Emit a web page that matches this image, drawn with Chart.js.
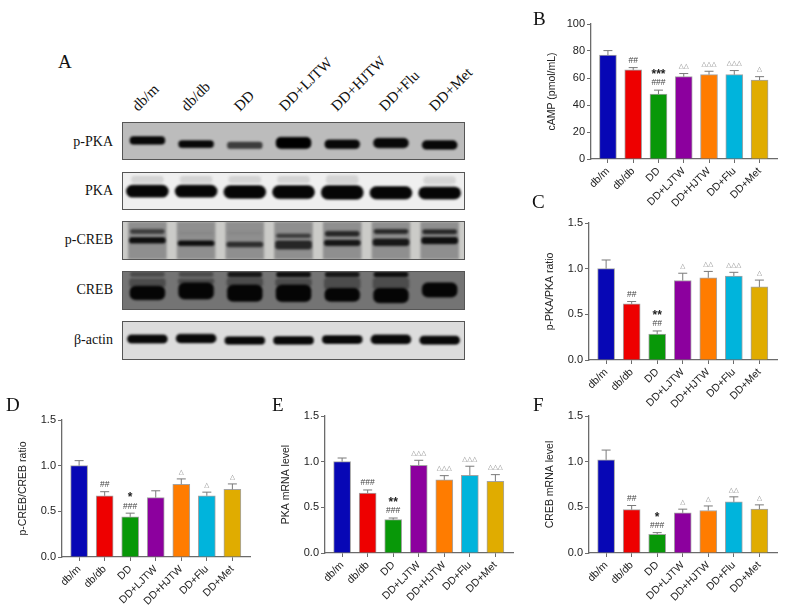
<!DOCTYPE html>
<html>
<head>
<meta charset="utf-8">
<title>Western blot and bar charts</title>
<script src="https://cdn.jsdelivr.net/npm/chart.js@4"></script>
<style>
  html, body { margin: 0; padding: 0; background: #fff; }
  #page { position: relative; width: 787px; height: 607px; overflow: hidden; }
  #page canvas { position: absolute; }
  .plot { filter: blur(0.35px); }
  .blot { box-sizing: border-box; border: 1.3px solid #555; }
  .letter, .rowlabel, .lane { position: absolute; font-family: "Liberation Serif", serif; color: #111; white-space: nowrap; line-height: 1; }
  .letter { font-size: 19px; }
  .rowlabel { font-size: 14px; text-align: right; width: 100px; left: 13px; }
  .lane { font-size: 15px; transform-origin: left bottom; transform: rotate(-45deg); }
</style>
</head>
<body>
<div id="page"></div>
<script>
var categories = ['db/m', 'db/db', 'DD', 'DD+LJTW', 'DD+HJTW', 'DD+Flu', 'DD+Met'];
var barColors = ['#0707b5', '#ee0000', '#089808', '#8c009e', '#ff7c00', '#00b4dc', '#e0ac00'];

// bar heights and error bars
var campValues = [77, 66, 48, 61, 62.5, 62.5, 58.5];
var campErrors = [3.3, 1.7, 3, 2.3, 2.5, 3, 2.5];
var campMarks = ['', '##', '###|***', '△△', '△△△', '△△△', '△'];
var campTicks = [0, 20, 40, 60, 80, 100];

var pkaRatioValues = [1.0, 0.615, 0.285, 0.87, 0.9, 0.92, 0.8];
var pkaRatioErrors = [0.095, 0.025, 0.033, 0.08, 0.07, 0.04, 0.075];
var pkaRatioMarks = ['', '##', '##|**', '△', '△△', '△△△', '△'];

var crebRatioValues = [1.0, 0.67, 0.44, 0.65, 0.795, 0.67, 0.74];
var crebRatioErrors = [0.055, 0.045, 0.04, 0.075, 0.06, 0.04, 0.06];
var crebRatioMarks = ['', '##', '###|*', '', '△', '△', '△'];

var pkaMrnaValues = [1.0, 0.655, 0.365, 0.96, 0.8, 0.85, 0.785];
var pkaMrnaErrors = [0.04, 0.035, 0.018, 0.055, 0.047, 0.1, 0.073];
var pkaMrnaMarks = ['', '###', '###|**', '△△△', '△△△', '△△△', '△△△'];

var crebMrnaValues = [1.02, 0.475, 0.205, 0.44, 0.465, 0.56, 0.48];
var crebMrnaErrors = [0.107, 0.045, 0.018, 0.04, 0.05, 0.055, 0.047];
var crebMrnaMarks = ['', '##', '###|*', '△', '△', '△△', '△'];

var ratioTicks = [0, 0.5, 1.0, 1.5];

// blot bands, each lane as percent of panel height from the bottom
var pPkaTop = [62, 51, 47, 60, 53, 57.5, 51];
var pPkaBottom = [41, 32, 29, 29, 29, 31, 27];
var pPkaDensity = [0.95, 0.95, 0.6, 1, 0.95, 0.95, 0.95];

var pkaTop = [66, 66, 65, 65, 65, 62, 61];
var pkaBottom = [33, 33, 30, 29, 27, 28, 28];
var pkaFaintTop = [91, 91, 91, 91, 93, 0, 90];
var pkaFaintBottom = [73, 73, 73, 73, 70, 0, 70];

var pCrebUpperTop = [80, 72, 72, 68, 75, 80, 79];
var pCrebUpperBottom = [69, 68, 68, 58, 62, 69, 68];
var pCrebUpperDensity = [0.6, 0.1, 0.1, 0.6, 0.75, 0.75, 0.75];
var pCrebLowerTop = [58, 49, 46, 49, 51, 54, 59];
var pCrebLowerBottom = [43, 36, 33, 27, 36, 36, 41];
var pCrebLowerDensity = [0.9, 0.9, 0.7, 0.75, 0.85, 0.85, 0.9];

var crebTop = [62, 71, 65, 65, 56, 56, 71];
var crebBottom = [25, 27, 21, 20, 21, 17, 32];
var crebMidTop = [82, 82, 84, 82, 84, 84, 0];
var crebMidBottom = [60, 68, 62, 62, 54, 54, 0];
var crebUpperTop = [100, 100, 100, 100, 100, 100, 0];
var crebUpperBottom = [88, 88, 87, 87, 87, 87, 0];
var crebUpperDensity = [0.5, 0.5, 0.85, 0.9, 0.85, 0.9, 0];

var actinTop = [65, 67, 60, 61, 63, 65, 62];
var actinBottom = [43, 44, 40, 40, 42, 41, 40];

var rowLabels = ['p-PKA', 'PKA', 'p-CREB', 'CREB', 'β-actin'];

Chart.defaults.animation = false;
Chart.defaults.font.family = '"Liberation Sans", Arial, sans-serif';

var page = document.getElementById('page');

function addCanvas(left, top, width, height, cls) {
  var c = document.createElement('canvas');
  c.width = width;
  c.height = height;
  c.style.left = left + 'px';
  c.style.top = top + 'px';
  c.style.width = width + 'px';
  c.style.height = height + 'px';
  c.className = cls;
  page.appendChild(c);
  return c;
}

function addText(cls, text, left, top) {
  var d = document.createElement('div');
  d.className = cls;
  d.textContent = text;
  d.style.left = left + 'px';
  d.style.top = top + 'px';
  page.appendChild(d);
}

var errorBars = {
  id: 'errorBars',
  afterDatasetsDraw: function(chart, args, opts) {
    var ctx = chart.ctx, x = chart.scales.x, y = chart.scales.y;
    ctx.save();
    opts.values.forEach(function(v, i) {
      var px = x.getPixelForValue(i);
      var top = y.getPixelForValue(v + opts.errors[i]);
      ctx.strokeStyle = '#7a7a7a';
      ctx.lineWidth = 1;
      ctx.beginPath();
      ctx.moveTo(px, y.getPixelForValue(v));
      ctx.lineTo(px, top);
      ctx.moveTo(px - 4.5, top);
      ctx.lineTo(px + 4.5, top);
      ctx.stroke();

      // significance marks stacked above the error bar
      var row = top - 7;
      ctx.textAlign = 'center';
      ctx.textBaseline = 'middle';
      opts.marks[i].split('|').forEach(function(m) {
        if (!m) return;
        if (m.charAt(0) == '*') {
          ctx.fillStyle = '#222';
          ctx.font = 'bold 12px "Liberation Sans"';
          ctx.fillText(m, px, row + 1.5);
        } else if (m.charAt(0) == '#') {
          ctx.fillStyle = '#444';
          ctx.font = '8.5px "Liberation Sans"';
          ctx.fillText(m, px, row);
        } else {
          ctx.fillStyle = '#888';
          ctx.font = '6.5px "DejaVu Sans"';
          ctx.fillText(m, px, row);
        }
        row -= 9.5;
      });
    });
    ctx.restore();
  }
};

function barPanel(box, title, values, errors, marks, ticks, maxY) {
  var marginLeft = 50, marginTop = 12, marginRight = 8, marginBottom = 60;
  var w = box.right - box.left, h = box.bottom - box.top;
  var canvas = addCanvas(box.left - marginLeft, box.top - marginTop, w + marginLeft + marginRight, h + marginTop + marginBottom, 'plot');
  return new Chart(canvas, {
    type: 'bar',
    data: {
      datasets: [{
        data: values.map(function(v, i) { return { x: i, y: v }; }),
        backgroundColor: barColors,
        borderColor: 'rgba(90, 90, 90, 0.55)',
        borderWidth: 1,
        barThickness: 17
      }]
    },
    plugins: [errorBars],
    options: {
      responsive: false,
      layout: { padding: { top: marginTop, right: marginRight, left: 0, bottom: 0 } },
      plugins: {
        legend: { display: false },
        tooltip: { enabled: false },
        errorBars: { values: values, errors: errors, marks: marks }
      },
      scales: {
        x: {
          type: 'linear',
          min: -0.67,
          max: 6.69,
          offset: false,
          grid: { offset: false, drawOnChartArea: false, tickLength: 4, tickColor: '#6b6b6b', tickWidth: 1 },
          border: { color: '#6b6b6b', width: 1.3 },
          afterBuildTicks: function(scale) {
            scale.ticks = categories.map(function(c, i) { return { value: i }; });
          },
          afterFit: function(scale) { scale.height = marginBottom; },
          ticks: {
            autoSkip: false,
            minRotation: 45,
            maxRotation: 45,
            padding: 2,
            color: '#222',
            font: { size: 10.5 },
            callback: function(v) { return categories[v]; }
          }
        },
        y: {
          min: 0,
          max: maxY,
          grid: { drawOnChartArea: false, tickLength: 4, tickColor: '#6b6b6b', tickWidth: 1 },
          border: { color: '#6b6b6b', width: 1.3 },
          afterBuildTicks: function(scale) {
            scale.ticks = ticks.map(function(t) { return { value: t }; });
          },
          afterFit: function(scale) { scale.width = marginLeft; },
          title: { display: true, text: title, color: '#222', font: { size: 10.5 }, padding: { top: 5, bottom: 0 } },
          ticks: {
            padding: 2,
            color: '#222',
            font: { size: 11 },
            callback: function(v) { return maxY == 100 ? v : v.toFixed(1); }
          }
        }
      }
    }
  });
}

barPanel({ left: 590.5, top: 23.5, right: 777, bottom: 159 }, 'cAMP (pmol/mL)', campValues, campErrors, campMarks, campTicks, 100);
barPanel({ left: 588.5, top: 222.5, right: 777, bottom: 359.5 }, 'p-PKA/PKA ratio', pkaRatioValues, pkaRatioErrors, pkaRatioMarks, ratioTicks, 1.5);
barPanel({ left: 61.5, top: 419.5, right: 250, bottom: 556.5 }, 'p-CREB/CREB ratio', crebRatioValues, crebRatioErrors, crebRatioMarks, ratioTicks, 1.5);
barPanel({ left: 325, top: 415.5, right: 513, bottom: 552.5 }, 'PKA mRNA level', pkaMrnaValues, pkaMrnaErrors, pkaMrnaMarks, ratioTicks, 1.5);
barPanel({ left: 588.5, top: 416, right: 777, bottom: 553 }, 'CREB mRNA level', crebMrnaValues, crebMrnaErrors, crebMrnaMarks, ratioTicks, 1.5);

function grey(d) {
  var g = Math.round(150 * (1 - d));
  return 'rgb(' + g + ',' + g + ',' + g + ')';
}

function band(tops, bottoms, color, width, radius) {
  return {
    data: tops.map(function(t, i) { return t > 0 ? [bottoms[i], t] : null; }),
    backgroundColor: color,
    barThickness: width,
    borderRadius: radius,
    borderSkipped: false,
    grouped: false
  };
}

var softEdge = {
  id: 'softEdge',
  beforeDatasetsDraw: function(chart) { chart.ctx.save(); chart.ctx.filter = 'blur(1.3px)'; },
  afterDatasetsDraw: function(chart) { chart.ctx.restore(); }
};

function blotPanel(top, height, background, datasets) {
  var canvas = addCanvas(122, top, 343, height, 'blot');
  canvas.style.background = background;
  return new Chart(canvas, {
    type: 'bar',
    data: { labels: categories, datasets: datasets },
    plugins: [softEdge],
    options: {
      responsive: false,
      plugins: { legend: { display: false }, tooltip: { enabled: false } },
      scales: {
        x: { display: false },
        y: { display: false, min: 0, max: 100 }
      }
    }
  });
}

var full = categories.map(function() { return 100; });
var none = categories.map(function() { return 0.01; });

blotPanel(122, 38, '#bcbcbc', [
  band(pPkaTop, pPkaBottom, pPkaDensity.map(grey), 35, 5)
]);
blotPanel(172, 38, '#efefef', [
  band(pkaTop, pkaBottom, '#060606', 42, 7),
  band(pkaFaintTop, pkaFaintBottom, '#d4d4d4', 32, 4)
]);
blotPanel(221, 39, '#cbcbc8', [
  band(pCrebLowerTop, pCrebLowerBottom, pCrebLowerDensity.map(grey), 36, 3),
  band(pCrebUpperTop, pCrebUpperBottom, pCrebUpperDensity.map(grey), 34, 3),
  band(full, none, '#8f8f8f', 38, 0)
]);
blotPanel(271, 39, '#747474', [
  band(crebTop, crebBottom, '#050505', 35, 6),
  band(crebUpperTop, crebUpperBottom, crebUpperDensity.map(grey), 34, 2),
  band(crebMidTop, crebMidBottom, '#4c4c4c', 36, 3)
]);
blotPanel(321, 39, '#dcdcdc', [
  band(actinTop, actinBottom, '#080808', 40, 7)
]);

rowLabels.forEach(function(label, i) {
  addText('rowlabel', label, 13, [135, 184, 233, 283, 333][i]);
});

[140, 189, 242, 287, 339, 387, 437].forEach(function(x, i) {
  addText('lane', categories[i], x, 99);
});

[['A', 58, 52], ['B', 533, 9], ['C', 532, 192], ['D', 6, 395], ['E', 272, 395], ['F', 533, 395]].forEach(function(l) {
  addText('letter', l[0], l[1], l[2]);
});
</script>
</body>
</html>
